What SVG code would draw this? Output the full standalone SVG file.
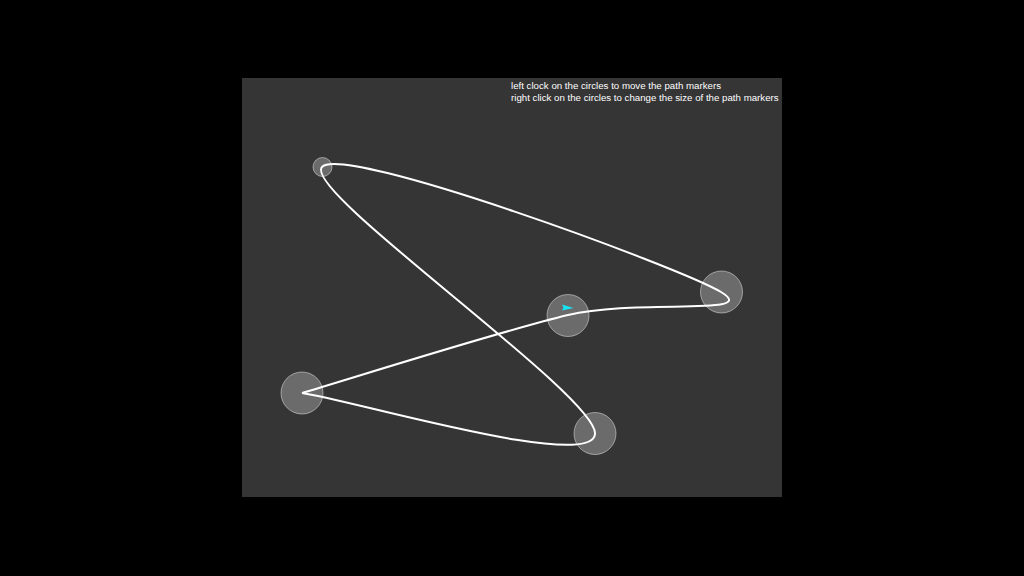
<svg xmlns="http://www.w3.org/2000/svg" width="1024" height="576" viewBox="0 0 1024 576">
<style>
.handle{fill:#ffffff;fill-opacity:0.27;stroke:#ffffff;stroke-opacity:0.45;stroke-width:1}
.curve{fill:none;stroke:#ffffff;stroke-width:2}
.note{font-family:"Liberation Sans",Arial,sans-serif;font-size:9.7px;fill:#ffffff}
</style>
<rect x="0" y="0" width="1024" height="576" fill="#000000"/>
<rect id="canvas" x="242" y="78" width="540" height="419" fill="#353535"/>
<g id="nodes">
<g id="p1"><circle class="handle" cx="322.5" cy="167" r="9.5"/></g>
<g id="p2"><circle class="handle" cx="721.5" cy="292" r="21"/></g>
<g id="p3"><circle class="handle" cx="568" cy="315.5" r="21"/></g>
<g id="p4"><circle class="handle" cx="302" cy="393" r="21"/></g>
<g id="p5"><circle class="handle" cx="595" cy="433.5" r="21"/></g>
</g>
<g id="connectors">
<path class="curve" d="M302,393 C346.3,380 498.2,331.8 568,315 C637.8,298.2 762,316.7 721,292 C680,267.3 343,143.3 322,167 C301,190.7 598.3,396.3 595,434 C591.7,471.7 350.8,399.8 302,393"/>
</g>
<g id="marker">
<polygon points="562,304.5 573.5,308 562,310.5 563.5,307.5" fill="#18e4f4"/>
</g>
<g id="notes">
<text class="note" x="511" y="89">left clock on the circles to move the path markers</text>
<text class="note" x="511" y="101">right click on the circles to change the size of the path markers</text>
</g>
</svg>
